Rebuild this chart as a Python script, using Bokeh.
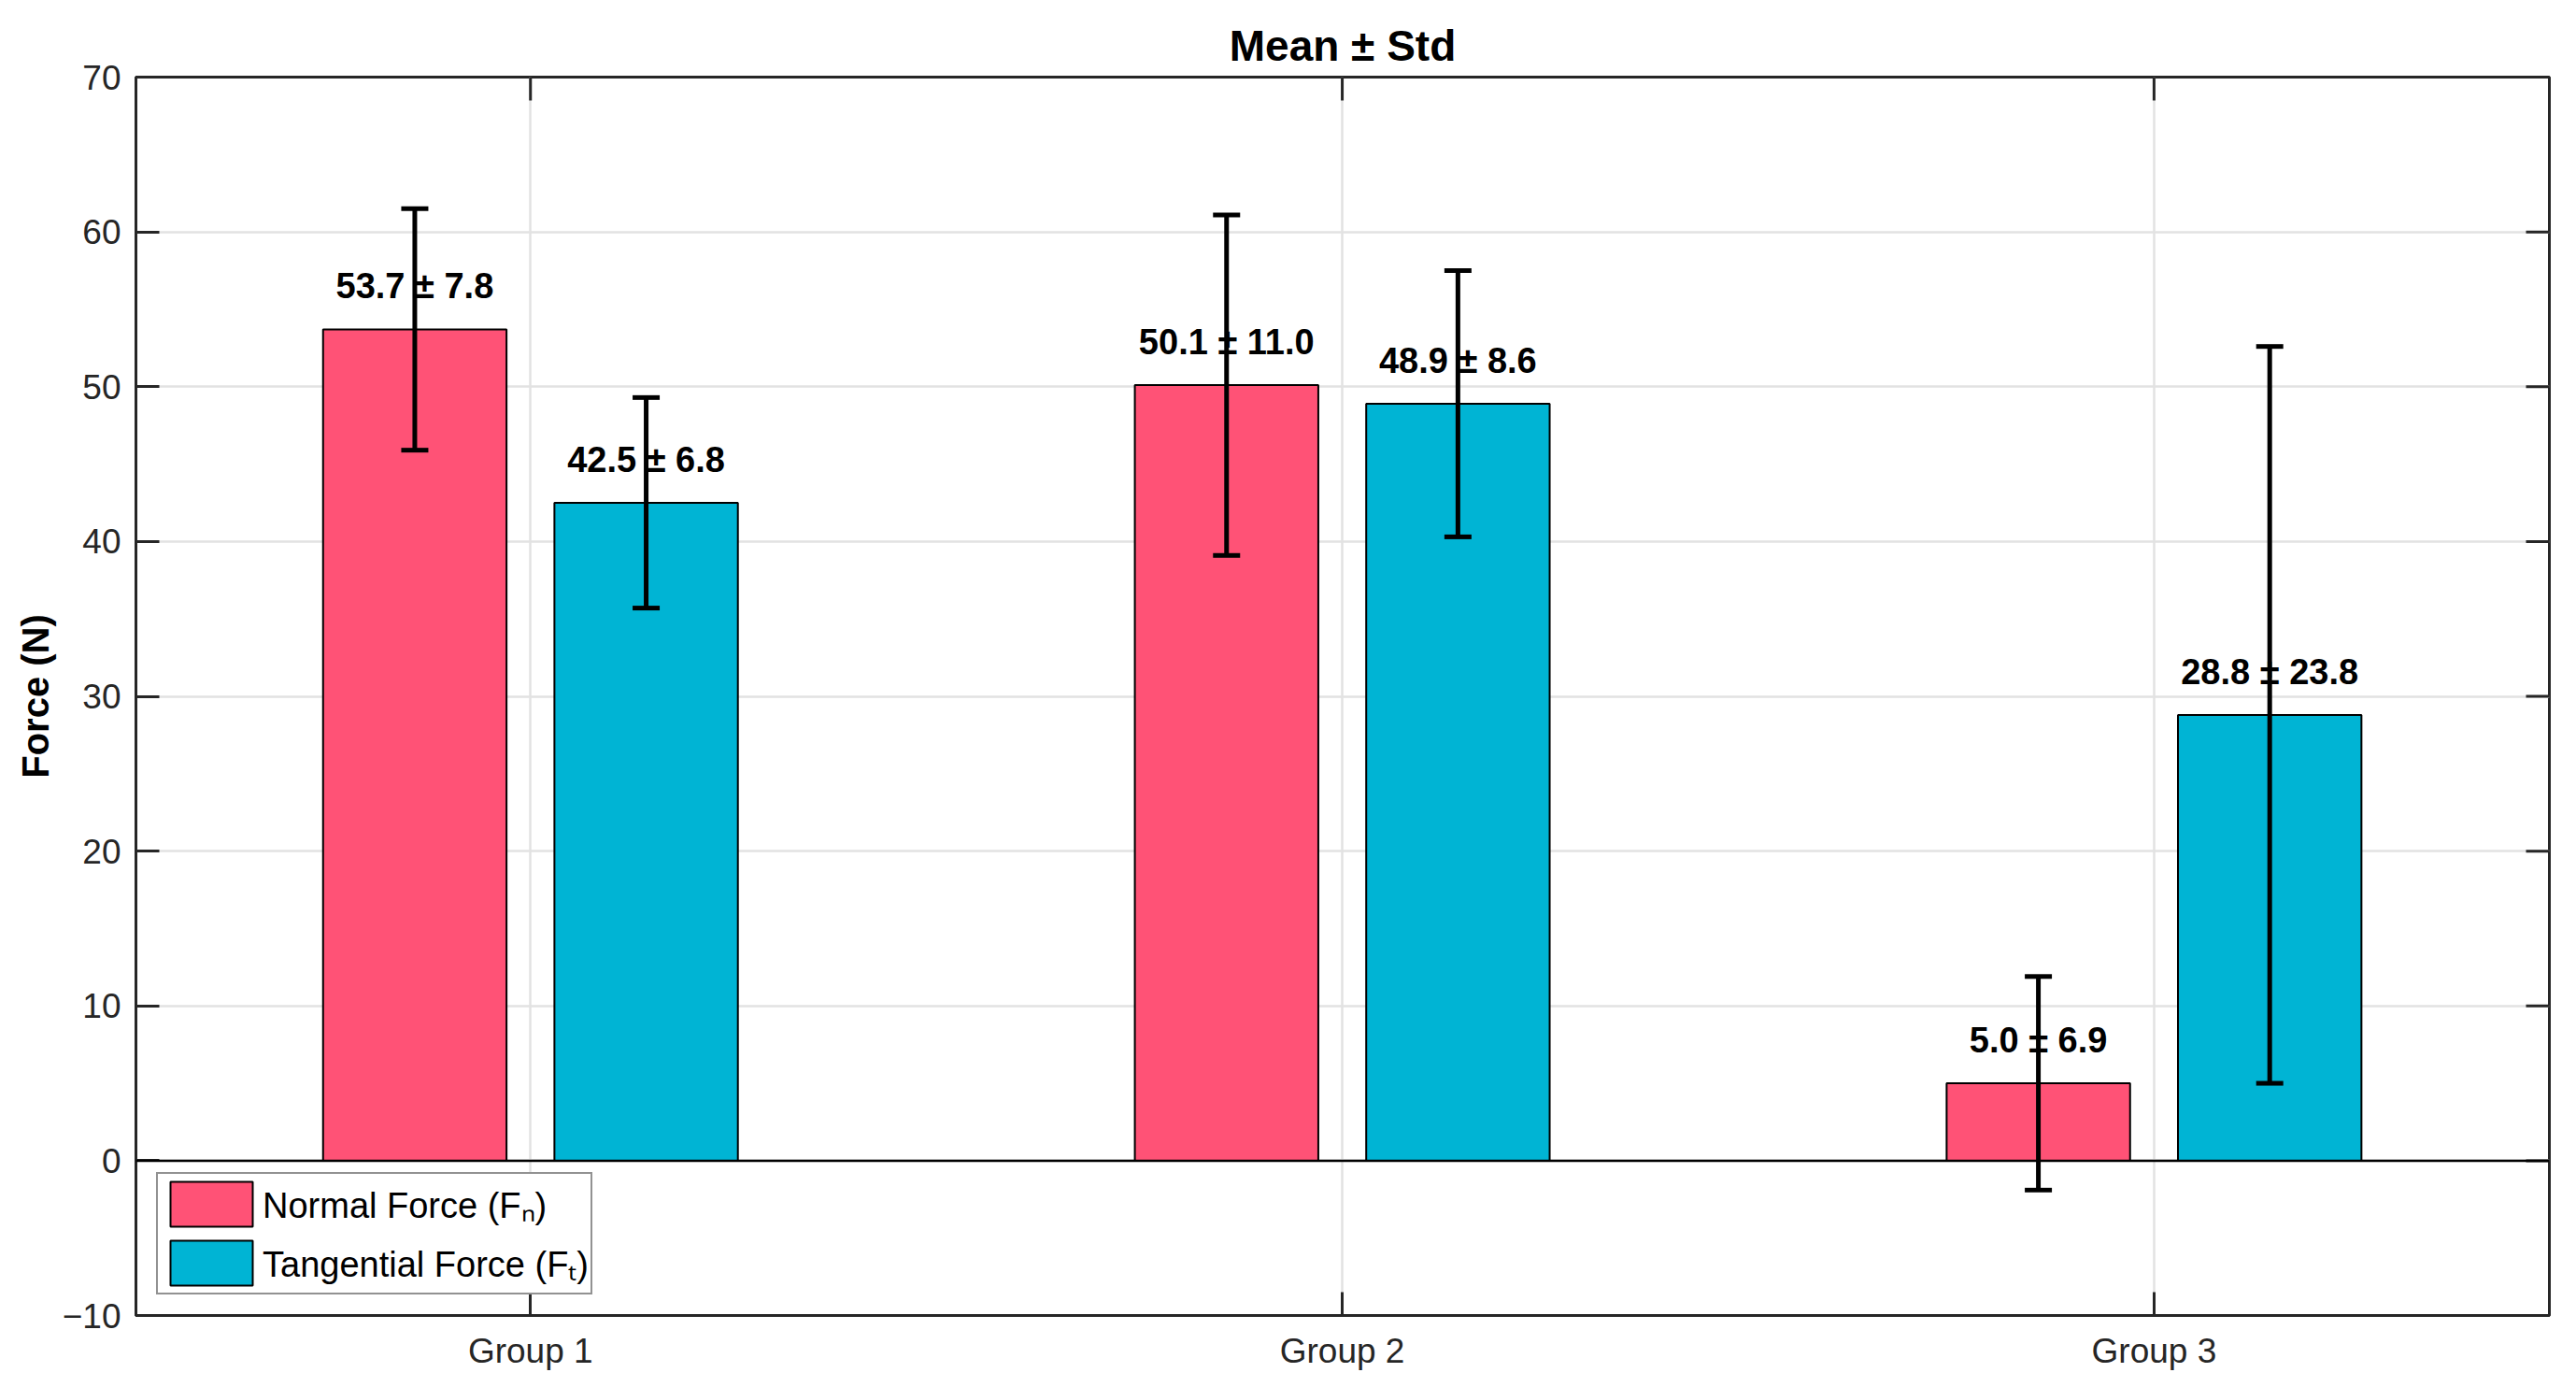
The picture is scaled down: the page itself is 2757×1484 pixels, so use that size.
import math
from bokeh.plotting import figure
from bokeh.models import (ColumnDataSource, Range1d, FixedTicker, Whisker,
                          TeeHead, LabelSet, Span, Legend, LegendItem)
from bokeh.core.properties import value
from bokeh.transform import dodge
from bokeh.embed import file_html
from bokeh.resources import INLINE

# ---- data ----
groups = ["Group 1", "Group 2", "Group 3"]
normal_mean = [53.7, 50.1, 5.0]
normal_std = [7.8, 11.0, 6.9]
tang_mean = [42.5, 48.9, 28.8]
tang_std = [6.8, 8.6, 23.8]
y_ticks = [-10, 0, 10, 20, 30, 40, 50, 60, 70]

RED = "#FF5276"
BLUE = "#00B4D4"
AX = "#262626"
FONT = "Liberation Sans"

X0, X1 = 0.514, 3.487
Y0, Y1 = -10, 70

xpos = [i + 1 for i in range(len(groups))]

def src(means, stds):
    return ColumnDataSource(dict(
        x=xpos,
        mean=means,
        upper=[m + s for m, s in zip(means, stds)],
        lower=[m - s for m, s in zip(means, stds)],
        label=[f"{m:.1f} ± {s:.1f}" for m, s in zip(means, stds)],
    ))

src_n = src(normal_mean, normal_std)
src_t = src(tang_mean, tang_std)

p = figure(width=2741, height=1468,
           x_range=Range1d(X0, X1), y_range=Range1d(Y0, Y1),
           output_backend="svg", toolbar_location=None,
           title="Mean ± Std",
           min_border_left=145, min_border_right=13,
           min_border_top=82, min_border_bottom=61)

p.background_fill_color = "white"
p.border_fill_color = "white"
p.outline_line_color = AX
p.outline_line_width = 3

p.title.align = "center"
p.title.text_font = FONT
p.title.text_font_size = "46px"
p.title.text_font_style = "bold"
p.title.text_color = "black"
p.title.standoff = 16

OFF = 0.1425
BW = 0.226

# grids
for g in (p.xgrid, p.ygrid):
    g.grid_line_color = "#e2e2e2"
    g.grid_line_width = 2.5
p.xgrid.ticker = FixedTicker(ticks=xpos)
p.ygrid.ticker = FixedTicker(ticks=y_ticks)

# axes
xa = p.xaxis[0]
xa.ticker = FixedTicker(ticks=xpos)
xa.major_label_overrides = {x: g for x, g in zip(xpos, groups)}
ya = p.yaxis[0]
ya.ticker = FixedTicker(ticks=y_ticks)
ya.major_label_overrides = {t: (f"\u2212{abs(t)}" if t < 0 else str(t)) for t in y_ticks}
ya.axis_label = "Force (N)"
ya.axis_label_text_font = FONT
ya.axis_label_text_font_size = "40px"
ya.axis_label_text_font_style = "bold"
ya.axis_label_text_color = "black"
ya.axis_label_standoff = 4

for ax in (xa, ya):
    ax.axis_line_color = AX
    ax.axis_line_width = 3
    ax.major_tick_line_color = AX
    ax.major_tick_line_width = 3
    ax.major_tick_in = 25
    ax.major_tick_out = 0
    ax.minor_tick_line_color = None
    ax.major_label_text_font = FONT
    ax.major_label_text_font_size = "37px"
    ax.major_label_text_color = AX
xa.major_label_standoff = 17
ya.major_label_standoff = 16

# inward ticks on the top and right edges (half of each dash is clipped by the frame)
p.scatter(x=xpos, y=[Y1] * len(xpos), marker="dash", size=50, angle=math.pi / 2,
          line_color=AX, line_width=3)
p.scatter(x=[X1] * len(y_ticks), y=y_ticks, marker="dash", size=50,
          line_color=AX, line_width=3)

# zero line
p.add_layout(Span(location=0, dimension="width", line_color="black", line_width=2.5))

# bars
rn = p.vbar(x=dodge("x", -OFF, range=p.x_range), top="mean", bottom=0, width=BW,
            source=src_n, fill_color=RED, line_color="black", line_width=2)
rt = p.vbar(x=dodge("x", OFF, range=p.x_range), top="mean", bottom=0, width=BW,
            source=src_t, fill_color=BLUE, line_color="black", line_width=2)

# labels
for s, o in ((src_n, -OFF), (src_t, OFF)):
    lab = LabelSet(x=dodge("x", o, range=p.x_range), y="mean", text="label", source=s,
                   y_offset=33, text_align="center", text_baseline="alphabetic",
                   text_font=value(FONT), text_font_size=value("38px"),
                   text_font_style="bold", text_color="black")
    lab.level = "annotation"
    p.add_layout(lab)

# error bars
for s, o in ((src_n, -OFF), (src_t, OFF)):
    w = Whisker(base=dodge("x", o, range=p.x_range), upper="upper", lower="lower", source=s,
                line_color="black", line_width=5,
                upper_head=TeeHead(size=29, line_width=5, line_color="black"),
                lower_head=TeeHead(size=29, line_width=5, line_color="black"))
    w.level = "overlay"
    p.add_layout(w)

legend = Legend(items=[LegendItem(label="Normal Force (F\u2099)", renderers=[rn]),
                       LegendItem(label="Tangential Force (F\u209c)", renderers=[rt])],
                location="bottom_left")
legend.margin = 22
legend.padding = 2
legend.spacing = 3
legend.glyph_width = 110
legend.glyph_height = 60
legend.label_height = 60
legend.label_standoff = 0
legend.label_text_font = FONT
legend.label_text_font_size = "38px"
legend.label_text_color = "black"
legend.border_line_color = AX
legend.border_line_width = 2.5
legend.background_fill_color = "white"
legend.background_fill_alpha = 1.0
p.add_layout(legend, "center")

open("out.html", "w").write(file_html(p, INLINE))
